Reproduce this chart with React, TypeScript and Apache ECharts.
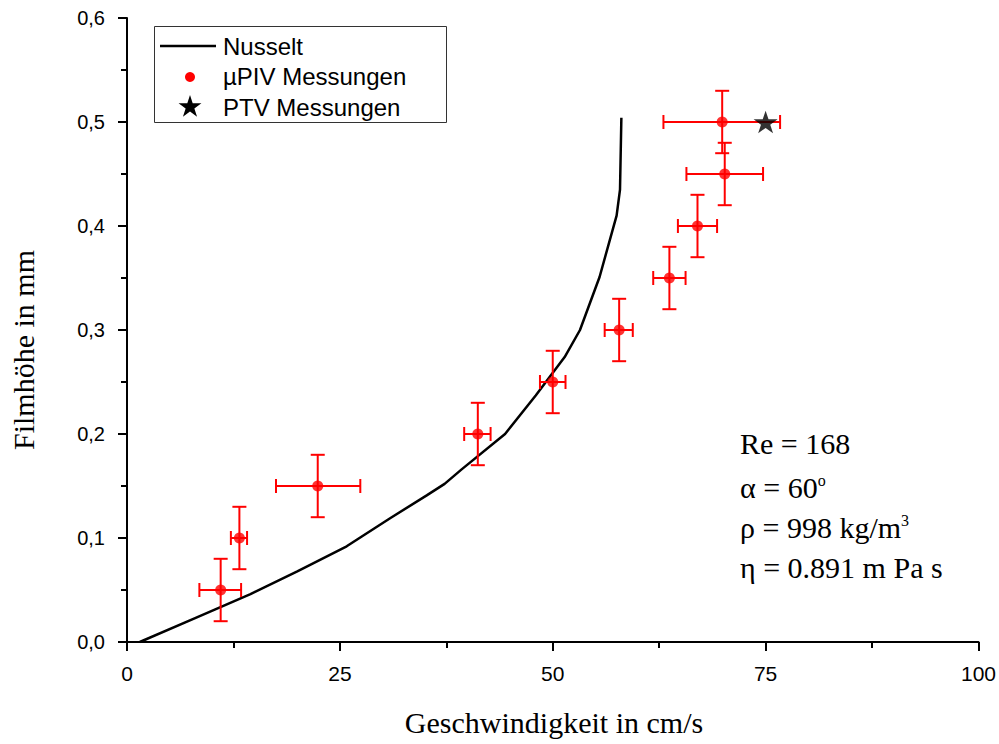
import React, { useEffect, useRef } from "react";
import * as echarts from "echarts";

// Nusselt theory curve: [velocity cm/s, film height mm]
const nusseltU = [1.5, 8, 14.5, 20, 25.8, 30.9, 35.2, 37.3, 39.3, 44.4, 48, 51.4, 53.2, 55.5, 57.5, 57.9, 58.06];
const nusseltH = [0, 0.023, 0.046, 0.068, 0.092, 0.119, 0.141, 0.152, 0.166, 0.2, 0.237, 0.274, 0.3, 0.351, 0.41, 0.435, 0.504];

// µPIV measurements
const pivU = [11.0, 13.2, 22.4, 41.2, 50.0, 57.8, 63.7, 67.0, 70.2, 69.9];
const pivH = [0.05, 0.1, 0.15, 0.2, 0.25, 0.3, 0.35, 0.4, 0.45, 0.5];
const pivULow = [8.5, 12.2, 17.5, 39.6, 48.5, 56.1, 61.8, 64.7, 65.7, 63.0];
const pivUHigh = [13.4, 14.1, 27.4, 42.7, 51.5, 59.4, 65.6, 69.3, 74.7, 76.7];
const pivHErr = [0.03, 0.03, 0.03, 0.03, 0.03, 0.03, 0.03, 0.03, 0.03, 0.03];

// PTV measurement
const ptvU = [75.0];
const ptvH = [0.5];

const xTicks = [0, 25, 50, 75, 100];
const yTicks = [0, 0.1, 0.2, 0.3, 0.4, 0.5, 0.6];

const legendNames = ["Nusselt", "µPIV Messungen", "PTV Messungen"];
const infoLines = [
  "Re = 168",
  "α = 60{sup|o}",
  "ρ = 998 kg/m{sup|3}",
  "η = 0.891 m Pa s",
];

const SANS = "'Liberation Sans', Arial, sans-serif";
const SERIF = "'Liberation Serif', 'Times New Roman', serif";
const RED = "#ff0000";
const STAR =
  "path://M50,0 L61.8,35.1 L98.9,35.1 L68.9,56.9 L80.3,91.9 L50,70.2 L19.7,91.9 L31.1,56.9 L1.1,35.1 L38.2,35.1 Z";

function starPoints(cx: number, cy: number, r: number): number[][] {
  const pts: number[][] = [];
  for (let i = 0; i < 10; i++) {
    const rad = i % 2 === 0 ? r : r * 0.382;
    const a = -Math.PI / 2 + (i * Math.PI) / 5;
    pts.push([cx + rad * Math.cos(a), cy + rad * Math.sin(a)]);
  }
  return pts;
}

export default function App() {
  const ref = useRef<HTMLDivElement>(null);

  useEffect(() => {
    if (!ref.current) return;
    const chart = echarts.init(ref.current, undefined, { renderer: "svg" });

    const errData = pivU.map((u, i) => [u, pivH[i], pivULow[i], pivUHigh[i], pivH[i] - pivHErr[i], pivH[i] + pivHErr[i]]);

    const axisCommon = {
      axisLine: { show: true, lineStyle: { color: "#000", width: 2 } },
      axisTick: { show: true, inside: false, length: 9, lineStyle: { color: "#000", width: 2 } },
      minorTick: { show: true, splitNumber: 2, length: 6, lineStyle: { color: "#000", width: 2 } },
      splitLine: { show: false },
    };

    // baselines approx 453, 497, 537, 577
    const infoY = [443, 487, 527, 567];

    chart.setOption({
      animation: false,
      backgroundColor: "#fff",
      grid: { left: 127, right: 20, top: 18, bottom: 102, containLabel: false },
      xAxis: {
        type: "value",
        min: xTicks[0],
        max: xTicks[xTicks.length - 1],
        interval: 25,
        ...axisCommon,
        axisLabel: {
          margin: 21,
          color: "#000",
          fontFamily: SANS,
          fontSize: 21,
          formatter: (v: number) => String(v),
        },
      },
      yAxis: {
        type: "value",
        min: yTicks[0],
        max: yTicks[yTicks.length - 1],
        interval: 0.1,
        ...axisCommon,
        axisLabel: {
          margin: 22,
          color: "#000",
          fontFamily: SANS,
          fontSize: 20,
          formatter: (v: number) => v.toFixed(1).replace(".", ","),
        },
      },
      series: [
        {
          name: legendNames[0],
          type: "line",
          data: nusseltU.map((u, i) => [u, nusseltH[i]]),
          showSymbol: false,
          smooth: false,
          lineStyle: { color: "#000", width: 2.5 },
          z: 3,
        },
        {
          name: "errorbars",
          type: "custom",
          data: errData,
          z: 4,
          renderItem: (params: any, api: any) => {
            const x = api.value(0);
            const y = api.value(1);
            const c = api.coord([x, y]);
            const xl = api.coord([api.value(2), y]);
            const xh = api.coord([api.value(3), y]);
            const yl = api.coord([x, api.value(4)]);
            const yh = api.coord([x, api.value(5)]);
            const cap = 7;
            const style = { stroke: RED, lineWidth: 2 };
            return {
              type: "group",
              children: [
                { type: "line", shape: { x1: xl[0], y1: c[1], x2: xh[0], y2: c[1] }, style },
                { type: "line", shape: { x1: xl[0], y1: c[1] - cap, x2: xl[0], y2: c[1] + cap }, style },
                { type: "line", shape: { x1: xh[0], y1: c[1] - cap, x2: xh[0], y2: c[1] + cap }, style },
                { type: "line", shape: { x1: c[0], y1: yl[1], x2: c[0], y2: yh[1] }, style },
                { type: "line", shape: { x1: c[0] - cap, y1: yl[1], x2: c[0] + cap, y2: yl[1] }, style },
                { type: "line", shape: { x1: c[0] - cap, y1: yh[1], x2: c[0] + cap, y2: yh[1] }, style },
              ],
            };
          },
        },
        {
          name: legendNames[1],
          type: "scatter",
          data: pivU.map((u, i) => [u, pivH[i]]),
          symbol: "circle",
          symbolSize: 11,
          itemStyle: { color: RED },
          z: 5,
        },
        {
          name: legendNames[2],
          type: "scatter",
          data: ptvU.map((u, i) => [u, ptvH[i]]),
          symbol: STAR,
          symbolSize: 24,
          symbolKeepAspect: true,
          itemStyle: { color: "#000" },
          z: 6,
        },
      ],
      graphic: [
        {
          type: "text",
          x: 554,
          y: 722,
          style: {
            text: "Geschwindigkeit in cm/s",
            font: `30px ${SERIF}`,
            fill: "#000",
            textAlign: "center",
            textVerticalAlign: "middle",
          },
        },
        {
          type: "text",
          x: 23,
          y: 350,
          rotation: Math.PI / 2,
          style: {
            text: "Filmhöhe in mm",
            font: `30px ${SERIF}`,
            fill: "#000",
            textAlign: "center",
            textVerticalAlign: "middle",
          },
        },
        {
          type: "rect",
          shape: { x: 154.5, y: 26.5, width: 292, height: 96 },
          style: { fill: "#fff", stroke: "#333", lineWidth: 1 },
          z: 10,
        },
        {
          type: "line",
          shape: { x1: 160, y1: 46, x2: 216, y2: 46 },
          style: { stroke: "#000", lineWidth: 2.5 },
          z: 11,
        },
        {
          type: "circle",
          shape: { cx: 190, cy: 77, r: 5 },
          style: { fill: RED },
          z: 11,
        },
        {
          type: "polygon",
          shape: { points: starPoints(190, 107, 12) },
          style: { fill: "#000" },
          z: 11,
        },
        ...legendNames.map((n, i) => ({
          type: "text",
          x: 223,
          y: 46 + i * 30.5,
          style: { text: n, font: `24px ${SANS}`, fill: "#000", textVerticalAlign: "middle" },
          z: 11,
        })),
        ...infoLines.map((t, i) => ({
          type: "text",
          x: 740,
          y: infoY[i],
          style: {
            text: t,
            font: `30px ${SERIF}`,
            fill: "#000",
            textVerticalAlign: "middle",
            rich: {
              sup: { fontSize: 16, fontFamily: SERIF, verticalAlign: "top", padding: [0, 0, 14, 0] },
            },
          },
        })),
      ],
    });

    return () => chart.dispose();
  }, []);

  return (
    <div
      ref={ref}
      style={{ position: "fixed", left: 0, top: 0, width: 999, height: 744 }}
    />
  );
}
